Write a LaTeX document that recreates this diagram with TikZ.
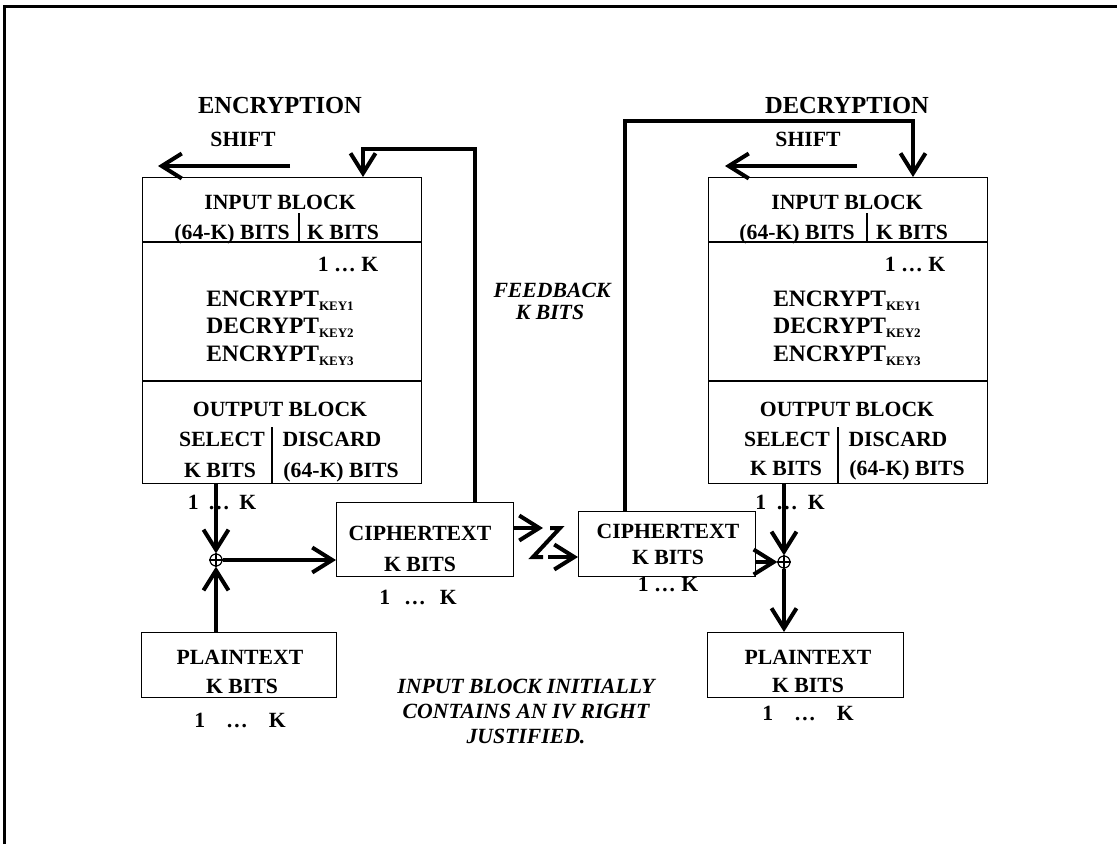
\documentclass[tikz,border=0pt]{standalone}
\usepackage{fontspec}
\setmainfont{Liberation Serif}
\usetikzlibrary{arrows.meta}
\newcommand{\keysub}[1]{\raisebox{-4pt}{\fontsize{13}{13}\selectfont #1}}
\newcommand{\oneK}[1]{1\hspace{#1}…\hspace{#1}K}
\begin{document}
\begin{tikzpicture}[x=1pt,y=-1pt,
    txt/.style={font=\bfseries\fontsize{21.7}{25}\selectfont,anchor=base,inner sep=0pt},
    big/.style={txt,font=\bfseries\fontsize{23.5}{25}\selectfont},
    ttl/.style={txt,font=\bfseries\fontsize{24.5}{26}\selectfont},
    itxt/.style={txt,font=\bfseries\itshape\fontsize{21.7}{25}\selectfont,align=center},
    blk/.style={draw,line width=1.3pt,anchor=north west,inner sep=0pt},
    thin/.style={line width=1.3pt},
    thk/.style={line width=4pt},
    arr/.style={thk,-{Straight Barb[length=20pt,width=25pt]}},
    xorc/.style={circle,draw,line width=1.2pt,minimum size=12pt,inner sep=0pt}]
    \useasboundingbox (0,0) rectangle (1117,844);
    \draw[line width=3pt] (4.5,844) -- (4.5,6.5) -- (1117,6.5);
    % encryption side
    \node[ttl] (enctitle) at (280,113) {ENCRYPTION};
    \node[txt] (encshift) at (243,146) {SHIFT};
    \coordinate (encsh0) at (290,166);
    \coordinate (encsh1) at (158,166);
    \draw[arr] (encsh0) -- (encsh1);
    \node[blk,minimum width=279pt,minimum height=306pt] (encb) at (142,177) {};
    \draw[thin] (encb.west |- 0,242) -- (encb.east |- 0,242);
    \draw[thin] (encb.west |- 0,381) -- (encb.east |- 0,381);
    \draw[thin] (299,213) -- (299,242);
    \draw[thin] (272,427) -- (272,483);
    \node[txt] (encin) at (280,209) {INPUT BLOCK};
    \node[txt] (encinl) at (232,239) {(64-K) BITS};
    \node[txt] (encinr) at (343,239) {K BITS};
    \node[txt] (encink) at (348,271) {1 … K};
    \node[big] (ence1) at (280,306) {ENCRYPT\keysub{KEY1}};
    \node[big] (encd2) at (280,333) {DECRYPT\keysub{KEY2}};
    \node[big] (ence3) at (280,361) {ENCRYPT\keysub{KEY3}};
    \node[txt] (encout) at (280,416) {OUTPUT BLOCK};
    \node[txt] (encsel) at (222,446) {SELECT};
    \node[txt] (encdis) at (332,446) {DISCARD};
    \node[txt] (encselk) at (220,477) {K BITS};
    \node[txt] (encdisk) at (341,477) {(64-K) BITS};
    \node[txt] (encoutk) at (222,509) {\oneK{9.5pt}};
    \node[xorc] (xl) at (216,560) {};
    \draw[thin] (xl.north) -- (xl.south) (xl.west) -- (xl.east);
    \node[blk,minimum width=177pt,minimum height=74pt] (ctl) at (336,502) {};
    \node[txt] (ctltxt) at (420,540) {CIPHERTEXT};
    \node[txt] (ctlk) at (420,571) {K BITS};
    \node[txt] (ctlbits) at (418,604) {\oneK{14pt}};
    \node[blk,minimum width=195pt,minimum height=65pt] (ptl) at (141,632) {};
    \node[txt] (ptltxt) at (240,664) {PLAINTEXT};
    \node[txt] (ptlk) at (242,693) {K BITS};
    \node[txt] (ptlbits) at (240,727) {\oneK{21pt}};
    \draw[arr] (encb.south -| xl) -- (xl.north);
    \draw[arr] (ptl.north -| xl) -- (xl.south);
    \draw[arr] (xl.east) -- (xl.east -| ctl.west);
    \coordinate (fbl) at (475,149);
    \coordinate (fbl2) at (363,149);
    \draw[arr] (ctl.north -| fbl) -- (fbl) -- (fbl2) -- (fbl2 |- encb.north);
    \node[itxt] (fbtxt) at (552,297) {FEEDBACK};
    \node[itxt] (fbk) at (550,319) {K BITS};
    % link between the two ciphertexts
    \coordinate (brk1) at (543,528);
    \coordinate (brk2) at (548,557);
    \draw[arr] (ctl.east |- brk1) -- (brk1);
    \draw[thk] (550,528) -- (560,528) -- (533,557) -- (543,557);
    % decryption side
    \node[ttl] (dectitle) at (847,113) {DECRYPTION};
    \node[txt] (decshift) at (808,146) {SHIFT};
    \coordinate (decsh0) at (857,166);
    \coordinate (decsh1) at (725,166);
    \draw[arr] (decsh0) -- (decsh1);
    \node[blk,minimum width=279pt,minimum height=306pt] (decb) at (708,177) {};
    \draw[thin] (decb.west |- 0,242) -- (decb.east |- 0,242);
    \draw[thin] (decb.west |- 0,381) -- (decb.east |- 0,381);
    \draw[thin] (867,213) -- (867,242);
    \draw[thin] (838,427) -- (838,483);
    \node[txt] (decin) at (847,209) {INPUT BLOCK};
    \node[txt] (decinl) at (797,239) {(64-K) BITS};
    \node[txt] (decinr) at (912,239) {K BITS};
    \node[txt] (decink) at (915,271) {1 … K};
    \node[big] (dece1) at (847,306) {ENCRYPT\keysub{KEY1}};
    \node[big] (decd2) at (847,333) {DECRYPT\keysub{KEY2}};
    \node[big] (dece3) at (847,361) {ENCRYPT\keysub{KEY3}};
    \node[txt] (decout) at (847,416) {OUTPUT BLOCK};
    \node[txt] (decsel) at (787,446) {SELECT};
    \node[txt] (decdis) at (898,446) {DISCARD};
    \node[txt] (decselk) at (786,475) {K BITS};
    \node[txt] (decdisk) at (907,475) {(64-K) BITS};
    \node[txt] (decoutk) at (790,509) {\oneK{10pt}};
    \node[xorc] (xr) at (784,562) {};
    \draw[thin] (xr.north) -- (xr.south) (xr.west) -- (xr.east);
    \node[blk,minimum width=177pt,minimum height=65pt] (ctr) at (578,511) {};
    \node[txt] (ctrtxt) at (668,538) {CIPHERTEXT};
    \node[txt] (ctrk) at (668,564) {K BITS};
    \node[txt] (ctrbits) at (668,591) {1 … K};
    \node[blk,minimum width=196pt,minimum height=65pt] (ptr) at (707,632) {};
    \node[txt] (ptrtxt) at (808,664) {PLAINTEXT};
    \node[txt] (ptrk) at (808,692) {K BITS};
    \node[txt] (ptrbits) at (808,720) {\oneK{21pt}};
    \draw[arr] (brk2) -- (brk2 -| ctr.west);
    \draw[arr] (decb.south -| xr) -- (xr.north);
    \draw[arr] (ctr.east |- xr) -- (xr.west);
    \draw[arr] (xr.south) -- (xr.south |- ptr.north);
    \coordinate (fbr) at (625,121);
    \coordinate (fbr2) at (913,121);
    \draw[arr] (ctr.north -| fbr) -- (fbr) -- (fbr2) -- (fbr2 |- decb.north);
    % note
    \node[itxt,anchor=north] (note) at (526,679) {INPUT BLOCK INITIALLY\\CONTAINS AN IV RIGHT\\JUSTIFIED.};
\end{tikzpicture}
\end{document}
